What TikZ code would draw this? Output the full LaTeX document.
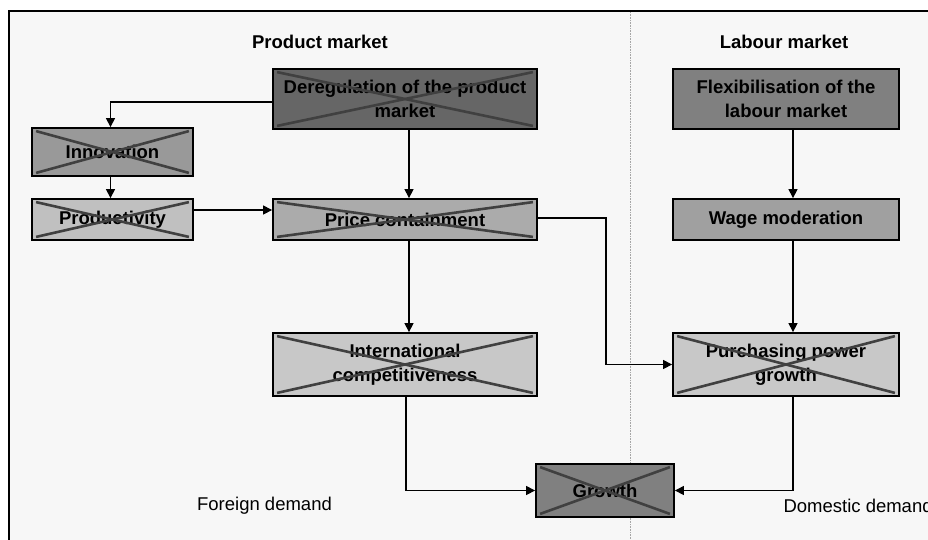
\documentclass[tikz,border=0pt]{standalone}
\usepackage{fontspec}
\setmainfont{Liberation Sans}
\usetikzlibrary{arrows.meta}
\definecolor{bgc}{HTML}{F7F7F7}
\definecolor{cdereg}{HTML}{666666}
\definecolor{cflex}{HTML}{808080}
\definecolor{cinnov}{HTML}{999999}
\definecolor{cprod}{HTML}{C0C0C0}
\definecolor{cprice}{HTML}{ABABAB}
\definecolor{cwage}{HTML}{A0A0A0}
\definecolor{clight}{HTML}{C8C8C8}
\definecolor{ccross}{HTML}{404040}
\tikzset{
  box/.style={draw=black, line width=1.8pt, align=center, inner sep=0pt,
    font=\fontsize{18.5}{23.5}\selectfont\bfseries},
  title/.style={font=\fontsize{18.5}{22}\selectfont\bfseries},
  plain/.style={font=\fontsize{18.5}{22}\selectfont},
  arr/.style={draw=black, line width=1.2pt, -{Triangle[length=9pt,width=9pt]}},
  cross/.style={draw=ccross, line width=2.6pt},
}
\begin{document}
\begin{tikzpicture}[x=1pt,y=-1pt]
\useasboundingbox (0,0) rectangle (928,539);
\fill[white] (0,0) rectangle (928,539);
\draw[fill=bgc, line width=1.3pt] (9,11) rectangle (940,560);
\draw[densely dotted, draw=gray!70, line width=0.6pt] (630,12) -- (630,539);

\node[title] (tprod) at (320,42) {Product market};
\node[title] (tlab) at (784,42) {Labour market};

\node[box, fill=cdereg, minimum width=264pt, minimum height=60pt] (dereg) at (405,99) {Deregulation of the product\\market};
\node[box, fill=cinnov, minimum width=161pt, minimum height=48pt] (innov) at (112.5,152) {Innovation};
\node[box, fill=cprod, minimum width=161pt, minimum height=41pt] (prod) at (112.5,219.5) {Productivity};
\node[box, fill=cprice, minimum width=264pt, minimum height=41pt] (price) at (405,219.5) {Price containment};
\node[box, fill=clight, minimum width=264pt, minimum height=63pt] (intl) at (405,364.5) {International\\competitiveness};
\node[box, fill=cflex, minimum width=226pt, minimum height=60pt] (flex) at (786,99) {Flexibilisation of the\\labour market};
\node[box, fill=cwage, minimum width=226pt, minimum height=41pt] (wage) at (786,219.5) {Wage moderation};
\node[box, fill=clight, minimum width=226pt, minimum height=63pt] (purch) at (786,364.5) {Purchasing power\\growth};
\node[box, fill=cflex, minimum width=138pt, minimum height=53pt] (growth) at (605,490.5) {Growth};

\foreach \n in {dereg,innov,prod,price,intl,purch,growth}{
  \draw[cross] ([shift={(5,4)}]\n.north west) -- ([shift={(-5,-4)}]\n.south east);
  \draw[cross] ([shift={(5,-4)}]\n.south west) -- ([shift={(-5,4)}]\n.north east);
}

\node[plain] (fd) at (264.5,506) {Foreign demand};
\node[plain, anchor=west] (dd) at (780,506) {Domestic demand};

\draw[arr] ([yshift=-3pt]dereg.west) -| ([xshift=-2pt]innov.north);
\draw[arr] ([xshift=4pt]dereg.south) -- ([xshift=4pt]price.north);
\draw[arr] ([xshift=-2pt]innov.south) -- ([xshift=-2pt]prod.north);
\draw[arr] ([yshift=9.5pt]prod.east) -- ([yshift=9.5pt]price.west);
\draw[arr] ([xshift=4pt]price.south) -- ([xshift=4pt]intl.north);
\draw[arr] ([yshift=1.5pt]price.east) -- ++(68,0) |- (purch.west);
\draw[arr] ([xshift=7pt]flex.south) -- ([xshift=7pt]wage.north);
\draw[arr] ([xshift=7pt]wage.south) -- ([xshift=7pt]purch.north);
\draw[arr] ([xshift=1pt]intl.south) |- (growth.west);
\draw[arr] ([xshift=7pt]purch.south) |- (growth.east);
\end{tikzpicture}
\end{document}
